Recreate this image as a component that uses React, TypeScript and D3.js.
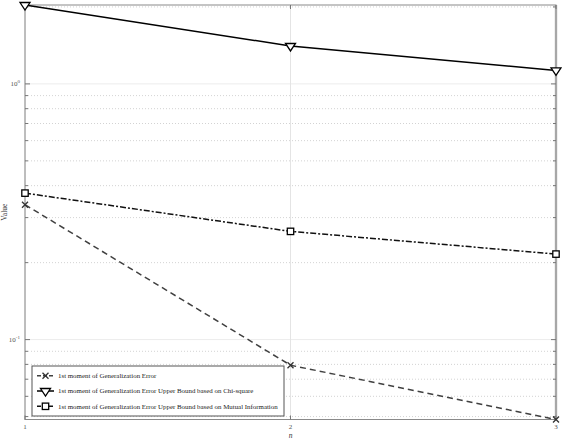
import React, { useEffect, useRef } from 'react';
import * as d3 from 'd3';

// values
const nValues = [1, 2, 3];
const genError = [0.337, 0.0794, 0.0487];
const chiSquareBound = [2.035, 1.407, 1.129];
const mutualInfoBound = [0.374, 0.265, 0.216];
const seriesNames = [
  '1st moment of Generalization Error',
  '1st moment of Generalization Error Upper Bound based on Chi-square',
  '1st moment of Generalization Error Upper Bound based on Mutual Information',
];
const yMajorTicks = [0.1, 1];
const yMinorTicks = [0.05, 0.06, 0.07, 0.08, 0.09, 0.2, 0.3, 0.4, 0.5, 0.6, 0.7, 0.8, 0.9, 2];
const yTickExp = ['-1', '0'];

const W = 562;
const H = 440;

function drawMarker(g: d3.Selection<SVGGElement, unknown, null, undefined>, kind: string, x: number, y: number) {
  if (kind === 'x') {
    const r = 3;
    g.append('path')
      .attr('d', `M${x - r},${y - r}L${x + r},${y + r}M${x - r},${y + r}L${x + r},${y - r}`)
      .attr('stroke', '#333').attr('stroke-width', 1.3).attr('fill', 'none');
  } else if (kind === 'v') {
    g.append('path')
      .attr('d', `M${x - 5},${y - 2.5}L${x + 5},${y - 2.5}L${x},${y + 5}Z`)
      .attr('stroke', '#000').attr('stroke-width', 1.3).attr('fill', 'white');
  } else {
    g.append('rect')
      .attr('x', x - 3.2).attr('y', y - 3.2).attr('width', 6.4).attr('height', 6.4)
      .attr('stroke', '#000').attr('stroke-width', 1.3).attr('fill', 'white');
  }
}

function drawChart(svgEl: SVGSVGElement) {
  const svg = d3.select(svgEl);
  svg.selectAll('*').remove();

  const left = 25, right = 556, top = 5, bottom = 419.5;
  const x = d3.scaleLinear().domain([1, 3]).range([left, right]);
  const y = d3.scaleLog().domain([0.0487, 2.035]).range([bottom, top]);

  svg.append('rect').attr('width', W).attr('height', H).attr('fill', 'white');

  // grid
  const grid = svg.append('g');
  yMinorTicks.forEach((t) => {
    grid.append('line')
      .attr('x1', left).attr('x2', right).attr('y1', y(t)).attr('y2', y(t))
      .attr('stroke', '#c8c8c8').attr('stroke-width', 0.8).attr('stroke-dasharray', '1,2');
  });
  yMajorTicks.forEach((t) => {
    grid.append('line')
      .attr('x1', left).attr('x2', right).attr('y1', y(t)).attr('y2', y(t))
      .attr('stroke', '#ececec').attr('stroke-width', 1);
  });
  nValues.forEach((t) => {
    grid.append('line')
      .attr('x1', x(t)).attr('x2', x(t)).attr('y1', top).attr('y2', bottom)
      .attr('stroke', '#e4e4e4').attr('stroke-width', 1);
  });

  // box
  svg.append('line').attr('x1', right).attr('x2', right).attr('y1', top).attr('y2', bottom)
    .attr('stroke', '#c4c4c4').attr('stroke-width', 2.5);
  svg.append('rect')
    .attr('x', left).attr('y', top).attr('width', right - left).attr('height', bottom - top)
    .attr('fill', 'none').attr('stroke', '#8a8a8a').attr('stroke-width', 1);

  // ticks
  const ticks = svg.append('g').attr('stroke', '#777').attr('stroke-width', 1);
  yMajorTicks.forEach((t) => {
    ticks.append('line').attr('x1', left).attr('x2', left + 5).attr('y1', y(t)).attr('y2', y(t));
    ticks.append('line').attr('x1', right).attr('x2', right - 5).attr('y1', y(t)).attr('y2', y(t));
  });
  yMinorTicks.forEach((t) => {
    ticks.append('line').attr('x1', left).attr('x2', left + 3).attr('y1', y(t)).attr('y2', y(t));
    ticks.append('line').attr('x1', right).attr('x2', right - 3).attr('y1', y(t)).attr('y2', y(t));
  });
  nValues.forEach((t) => {
    ticks.append('line').attr('x1', x(t)).attr('x2', x(t)).attr('y1', bottom).attr('y2', bottom - 4);
    ticks.append('line').attr('x1', x(t)).attr('x2', x(t)).attr('y1', top).attr('y2', top + 4);
  });

  const font = '"Liberation Serif", "DejaVu Serif", serif';

  // tick labels
  nValues.forEach((t) => {
    svg.append('text').attr('x', x(t)).attr('y', 429).attr('text-anchor', 'middle')
      .attr('font-family', font).attr('font-size', 7).attr('fill', '#555').text(String(t));
  });
  yMajorTicks.forEach((t, i) => {
    const txt = svg.append('text').attr('x', 20).attr('y', y(t) + 2.5).attr('text-anchor', 'end')
      .attr('font-family', font).attr('font-size', 7).attr('fill', '#555');
    txt.append('tspan').text('10');
    txt.append('tspan').attr('dy', -3).attr('font-size', 5).text(yTickExp[i]);
  });

  svg.append('text').attr('x', x(2)).attr('y', 438).attr('text-anchor', 'middle')
    .attr('font-family', font).attr('font-style', 'italic').attr('font-size', 7.5).attr('fill', '#333').text('n');
  svg.append('text').attr('transform', `translate(7,${(top + bottom) / 2}) rotate(-90)`)
    .attr('text-anchor', 'middle').attr('font-family', font).attr('font-size', 7.5).attr('fill', '#333').text('Value');

  // series
  const line = d3.line<number>().x((_, i) => x(nValues[i])).y((d) => y(d));
  const series = [
    { data: genError, marker: 'x', color: '#404040', dash: '6,4' },
    { data: chiSquareBound, marker: 'v', color: '#000', dash: null },
    { data: mutualInfoBound, marker: 's', color: '#111', dash: '6,2,2,2' },
  ];
  const plot = svg.append('g');
  series.forEach((s) => {
    plot.append('path').attr('d', line(s.data) as string)
      .attr('fill', 'none').attr('stroke', s.color).attr('stroke-width', 1.5)
      .attr('stroke-dasharray', s.dash);
    s.data.forEach((d, i) => drawMarker(plot, s.marker, x(nValues[i]), y(d)));
  });

  // legend
  const lg = svg.append('g');
  lg.append('rect').attr('x', 32).attr('y', 366).attr('width', 252).attr('height', 50)
    .attr('fill', 'white').attr('stroke', '#555').attr('stroke-width', 1);
  const legendY = [375.7, 391, 406.3];
  series.forEach((s, i) => {
    const ly = legendY[i];
    lg.append('line').attr('x1', 37).attr('x2', 54).attr('y1', ly).attr('y2', ly)
      .attr('stroke', s.color).attr('stroke-width', 1.5).attr('stroke-dasharray', s.dash ? '4,2' : null);
    drawMarker(lg, s.marker, 45.5, ly);
    lg.append('text').attr('x', 58).attr('y', ly + 2.2)
      .attr('font-family', font).attr('font-size', 6.9).attr('fill', '#222').text(seriesNames[i]);
  });
}

export default function App() {
  const ref = useRef<SVGSVGElement>(null);
  useEffect(() => {
    if (ref.current) drawChart(ref.current);
  }, []);
  return (
    <svg ref={ref} width={W} height={H} style={{ position: 'absolute', left: 0, top: 0, display: 'block' }} />
  );
}
